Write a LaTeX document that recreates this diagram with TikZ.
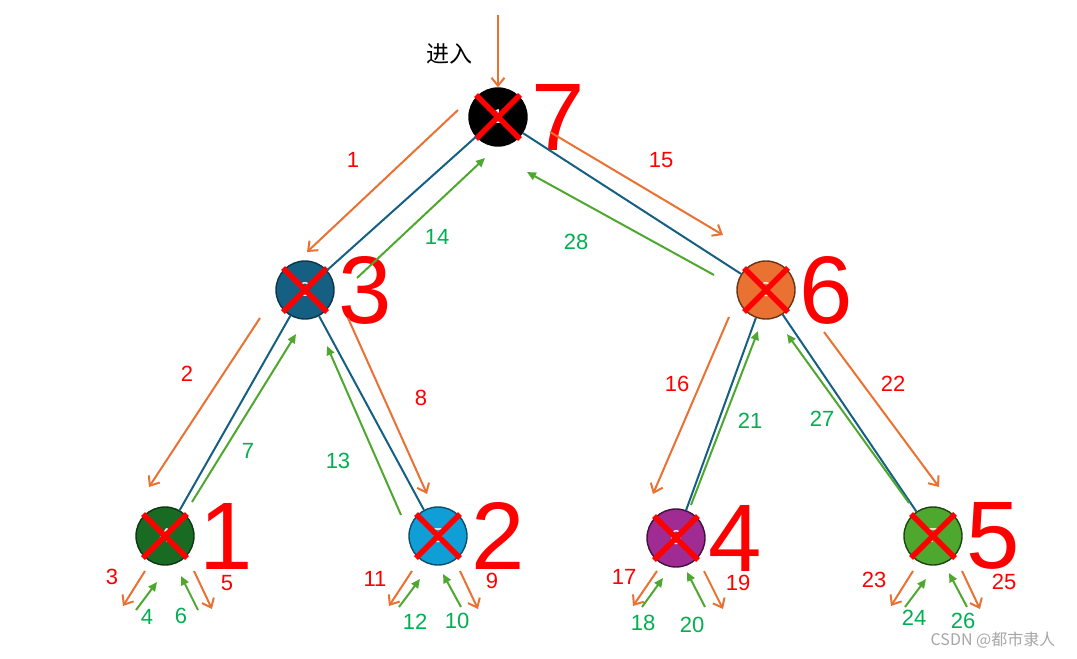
\documentclass[tikz,border=0pt]{standalone}
\usepackage{fontspec}
\setmainfont{Liberation Sans}
\newfontfamily\cjk{Noto Sans CJK SC}
\usepackage{tikz}
\usetikzlibrary{arrows.meta,positioning}

\definecolor{edgeblue}{HTML}{156082}
\definecolor{heapblue}{HTML}{156082}
\definecolor{heaporange}{HTML}{E97132}
\definecolor{heapdkgreen}{HTML}{196B24}
\definecolor{heapcyan}{HTML}{0F9ED5}
\definecolor{heappurple}{HTML}{A02B93}
\definecolor{heapgreen}{HTML}{4EA72E}
\definecolor{arroworange}{HTML}{E97132}
\definecolor{arrowgreen}{HTML}{4EA72E}
\definecolor{labelgreen}{HTML}{00B050}

\begin{document}
\begin{tikzpicture}[x=1pt,y=-1pt,
    heapnode/.style={circle,minimum size=58pt,inner sep=0pt,line width=1.4pt,
        text=white,font=\fontsize{20}{20}\selectfont},
    xmark/.style={draw=red,line width=5.5pt},
    treeedge/.style={draw=edgeblue,line width=2pt},
    godown/.style={-{Straight Barb[length=8pt,width=13pt]},draw=arroworange,line width=2pt},
    goup/.style={-{Triangle[length=9pt,width=8pt]},draw=arrowgreen,line width=2pt},
    downlabel/.style={text=red,font=\fontsize{22}{22}\selectfont,inner sep=0pt},
    uplabel/.style={text=labelgreen,font=\fontsize{22}{22}\selectfont,inner sep=0pt},
    bignum/.style={text=red,font=\fontsize{96}{96}\selectfont,inner sep=0pt}
]
\useasboundingbox (0,0) rectangle (1077,659);
% heap nodes
\node[heapnode,fill=black,draw=black] (h1) at (498,117) {1};
\node[heapnode,fill=heapblue,draw=heapblue!55!black] (h2) at (305,290) {2};
\node[heapnode,fill=heaporange,draw=heaporange!45!black] (h3) at (766,290) {3};
\node[heapnode,fill=heapdkgreen,draw=heapdkgreen!50!black] (h4) at (165,536) {4};
\node[heapnode,fill=heapcyan,draw=heapblue!80!black] (h5) at (438,536) {5};
\node[heapnode,fill=heappurple,draw=heappurple!40!black] (h6) at (676,538) {6};
\node[heapnode,fill=heapgreen,draw=heapgreen!40!black] (h7) at (933,536) {7};
% crosses
\draw[xmark] ([shift={(-22,-22)}]h1.center)--([shift={(22,22)}]h1.center) ([shift={(-22,22)}]h1.center)--([shift={(22,-22)}]h1.center);
\draw[xmark] ([shift={(-22,-22)}]h2.center)--([shift={(22,22)}]h2.center) ([shift={(-22,22)}]h2.center)--([shift={(22,-22)}]h2.center);
\draw[xmark] ([shift={(-22,-22)}]h3.center)--([shift={(22,22)}]h3.center) ([shift={(-22,22)}]h3.center)--([shift={(22,-22)}]h3.center);
\draw[xmark] ([shift={(-22,-22)}]h4.center)--([shift={(22,22)}]h4.center) ([shift={(-22,22)}]h4.center)--([shift={(22,-22)}]h4.center);
\draw[xmark] ([shift={(-22,-22)}]h5.center)--([shift={(22,22)}]h5.center) ([shift={(-22,22)}]h5.center)--([shift={(22,-22)}]h5.center);
\draw[xmark] ([shift={(-22,-22)}]h6.center)--([shift={(22,22)}]h6.center) ([shift={(-22,22)}]h6.center)--([shift={(22,-22)}]h6.center);
\draw[xmark] ([shift={(-22,-22)}]h7.center)--([shift={(22,22)}]h7.center) ([shift={(-22,22)}]h7.center)--([shift={(22,-22)}]h7.center);
% removal order
\node[bignum,right=4pt of h1] (o1) {7};
\node[bignum,right=4pt of h2] (o2) {3};
\node[bignum,right=4pt of h3] (o3) {6};
\node[bignum,right=5pt of h4] (o4) {1};
\node[bignum,right=4pt of h5] (o5) {2};
\node[bignum,right=3pt of h6] (o6) {4};
\node[bignum,right=4pt of h7] (o7) {5};
% tree edges
\draw[treeedge] (h1)--(h2);
\draw[treeedge] (h1)--(h3);
\draw[treeedge] (h2)--(h4);
\draw[treeedge] (h2)--(h5);
\draw[treeedge] (h3)--(h6);
\draw[treeedge] (h3)--(h7);
% entry
\coordinate (entry) at (498,15);
\node[font=\cjk\fontsize{23}{23}\selectfont] (entrytext) at (449,54) {进入};
\draw[godown] (entry)--(h1);
% walk along the edges
\draw[godown] ([shift={(-40,-7)}]h1.center)--([shift={(2,-38)}]h2.center);
\draw[goup] ([shift={(52,-12)}]h2.center)--([shift={(-13,41)}]h1.center);
\draw[godown] ([shift={(52,15)}]h1.center)--([shift={(-43,-55)}]h3.center);
\draw[goup] ([shift={(-52,-15)}]h3.center)--([shift={(29,55)}]h1.center);
\draw[godown] ([shift={(-45,28)}]h2.center)--([shift={(-16,-49)}]h4.center);
\draw[goup] ([shift={(27,-34)}]h4.center)--([shift={(-9,44)}]h2.center);
\draw[godown] ([shift={(43,28)}]h2.center)--([shift={(-11,-42)}]h5.center);
\draw[goup] ([shift={(-37,-21)}]h5.center)--([shift={(22,56)}]h2.center);
\draw[godown] ([shift={(-37,27)}]h3.center)--([shift={(-23,-44)}]h6.center);
\draw[goup] ([shift={(15,-33)}]h6.center)--([shift={(-8,41)}]h3.center);
\draw[godown] ([shift={(58,42)}]h3.center)--([shift={(6,-49)}]h7.center);
\draw[goup] ([shift={(-24,-33)}]h7.center)--([shift={(21,44)}]h3.center);
% leaf children (empty)
\draw[godown] ([shift={(-20,35)}]h4.center)--([shift={(-42,70)}]h4.center);
\draw[goup] ([shift={(-29,74)}]h4.center)--([shift={(-8,46)}]h4.center);
\draw[goup] ([shift={(33,74)}]h4.center)--([shift={(16,40)}]h4.center);
\draw[godown] ([shift={(29,35)}]h4.center)--([shift={(47,73)}]h4.center);
\draw[godown] ([shift={(-26,35)}]h5.center)--([shift={(-49,70)}]h5.center);
\draw[goup] ([shift={(-39,71)}]h5.center)--([shift={(-18,43)}]h5.center);
\draw[goup] ([shift={(23,71)}]h5.center)--([shift={(5,38)}]h5.center);
\draw[godown] ([shift={(22,35)}]h5.center)--([shift={(40,73)}]h5.center);
\draw[godown] ([shift={(-19,33)}]h6.center)--([shift={(-43,68)}]h6.center);
\draw[goup] ([shift={(-34,69)}]h6.center)--([shift={(-13,40)}]h6.center);
\draw[goup] ([shift={(29,69)}]h6.center)--([shift={(11,34)}]h6.center);
\draw[godown] ([shift={(28,33)}]h6.center)--([shift={(47,71)}]h6.center);
\draw[godown] ([shift={(-20,35)}]h7.center)--([shift={(-42,70)}]h7.center);
\draw[goup] ([shift={(-28,71)}]h7.center)--([shift={(-7,43)}]h7.center);
\draw[goup] ([shift={(34,71)}]h7.center)--([shift={(16,37)}]h7.center);
\draw[godown] ([shift={(29,35)}]h7.center)--([shift={(47,73)}]h7.center);
% step numbers
\node[downlabel] (s1) at (353,160) {1};
\node[downlabel] (s2) at (187,374) {2};
\node[downlabel] (s3) at (112,577) {3};
\node[uplabel] (s4) at (147,617) {4};
\node[downlabel] (s5) at (227,583) {5};
\node[uplabel] (s6) at (181,616) {6};
\node[uplabel] (s7) at (248,451) {7};
\node[downlabel] (s8) at (421,398) {8};
\node[downlabel] (s9) at (492,581) {9};
\node[uplabel] (s10) at (457,621) {10};
\node[downlabel] (s11) at (375,579) {11};
\node[uplabel] (s12) at (415,622) {12};
\node[uplabel] (s13) at (338,461) {13};
\node[uplabel] (s14) at (437,237) {14};
\node[downlabel] (s15) at (661,160) {15};
\node[downlabel] (s16) at (677,384) {16};
\node[downlabel] (s17) at (624,577) {17};
\node[uplabel] (s18) at (643,623) {18};
\node[downlabel] (s19) at (738,583) {19};
\node[uplabel] (s20) at (692,625) {20};
\node[uplabel] (s21) at (750,421) {21};
\node[downlabel] (s22) at (893,384) {22};
\node[downlabel] (s23) at (874,580) {23};
\node[uplabel] (s24) at (914,618) {24};
\node[downlabel] (s25) at (1004,582) {25};
\node[uplabel] (s26) at (963,621) {26};
\node[uplabel] (s27) at (822,419) {27};
\node[uplabel] (s28) at (576,242) {28};
\node[text=black!35,font=\cjk\fontsize{16}{16}\selectfont] (mark) at (993,640) {CSDN @都市隶人};
\end{tikzpicture}
\end{document}
